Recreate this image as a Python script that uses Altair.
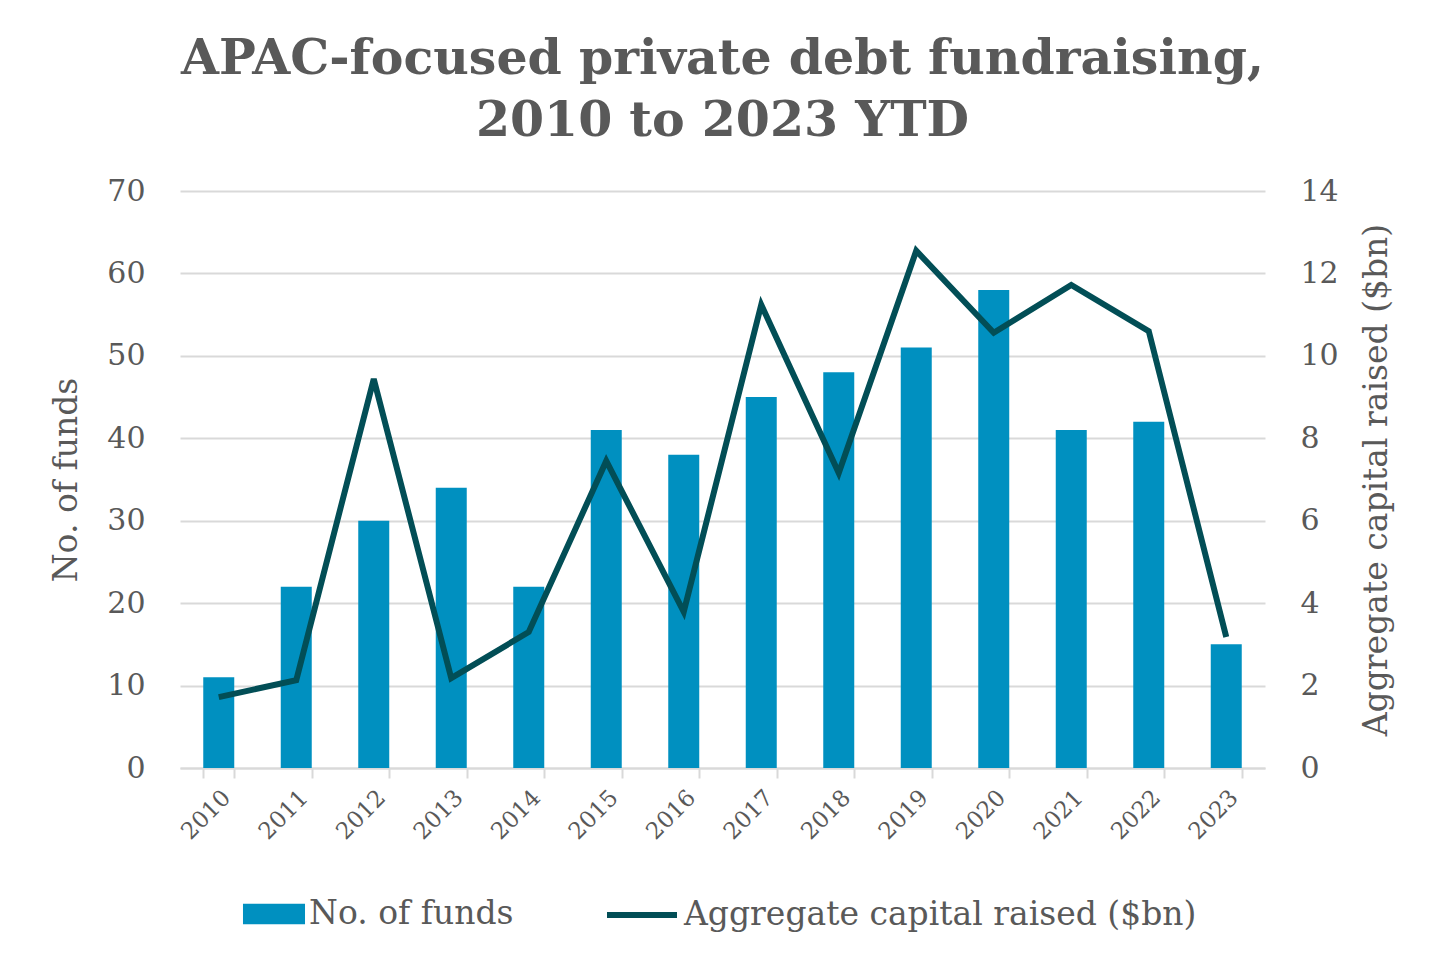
import altair as alt
import pandas as pd

years = ["2010", "2011", "2012", "2013", "2014", "2015", "2016", "2017", "2018", "2019", "2020", "2021", "2022", "2023"]
funds = [11, 22, 30, 34, 22, 41, 38, 45, 48, 51, 58, 41, 42, 15]
capital = [1.72, 2.13, 9.44, 2.18, 3.30, 7.45, 3.79, 11.24, 7.16, 12.55, 10.56, 11.72, 10.60, 3.18]

df = pd.DataFrame({"year": years, "funds": funds, "capital": capital})

FONT = "Georgia, DejaVu Serif, serif"
TXT = "#595959"
BAR = "#0090C0"
LINE = "#024E56"

x = alt.X("year:N", sort=years, title=None,
          scale=alt.Scale(paddingInner=0.6, paddingOuter=0.3),
          axis=alt.Axis(labelAngle=315, labelFontSize=23, labelColor=TXT, labelFont=FONT,
                        domainColor="#d9d9d9", domainWidth=2, tickColor="#d9d9d9", tickWidth=2,
                        tickSize=10, tickBand="extent", labelPadding=8, grid=False))

bars = alt.Chart(df).mark_bar(color=BAR).encode(
    x=x,
    y=alt.Y("funds:Q", title="No. of funds",
            scale=alt.Scale(domain=[0, 70]),
            axis=alt.Axis(values=list(range(0, 71, 10)), labelFontSize=30, labelColor=TXT, labelFont=FONT,
                          titleFontSize=33, titleFont=FONT, titleColor=TXT, titleFontWeight="normal",
                          domain=False, ticks=False, labelPadding=35, titlePadding=23,
                          gridColor="#d9d9d9", gridWidth=2)),
    fill=alt.Fill("s1:N", scale=alt.Scale(domain=["No. of funds"], range=[BAR]),
                  legend=alt.Legend(title=None, orient="none", legendX=73, legendY=702,
                                    labelFontSize=33, labelFont=FONT, labelLimit=700,
                                    labelColor=TXT, symbolType="M-1.5,-0.5H1.5V0.5H-1.5Z", symbolSize=1710,
                                    symbolStrokeWidth=0, symbolOpacity=1, labelOffset=14))
).transform_calculate(s1="'No. of funds'")

line = alt.Chart(df).mark_line(strokeWidth=6).encode(
    x=x,
    y=alt.Y("capital:Q", title="Aggregate capital raised ($bn)",
            scale=alt.Scale(domain=[0, 14]),
            axis=alt.Axis(orient="right", values=list(range(0, 15, 2)), labelFontSize=30, labelColor=TXT,
                          labelFont=FONT, titleFontSize=33, titleFont=FONT, titleColor=TXT,
                          titleFontWeight="normal", titleAngle=270, titleBaseline="top", domain=False,
                          ticks=False, labelPadding=35, titlePadding=22, grid=False)),
    stroke=alt.Stroke("s2:N", scale=alt.Scale(domain=["Aggregate capital raised ($bn)"], range=[LINE]),
                      legend=alt.Legend(title=None, orient="none", legendX=424, legendY=686,
                                        labelFontSize=33, labelFont=FONT, labelLimit=900,
                                        labelColor=TXT, symbolType="stroke", symbolStrokeWidth=6,
                                        symbolSize=4900, labelOffset=4))
).transform_calculate(s2="'Aggregate capital raised ($bn)'")

chart = alt.layer(bars, line).resolve_scale(y="independent", fill="independent", stroke="independent").properties(
    width=1085, height=577,
    title=alt.TitleParams(["APAC-focused private debt fundraising,", "2010 to 2023 YTD"],
                          font=FONT, fontSize=49, fontWeight="bold", color=TXT, anchor="middle",
                          lineHeight=62, offset=30),
    padding={"left": 42, "top": 27, "right": 10, "bottom": 10}
).configure_view(stroke=None)

chart.save("out.html", embed_options={"renderer": "svg", "actions": False})
